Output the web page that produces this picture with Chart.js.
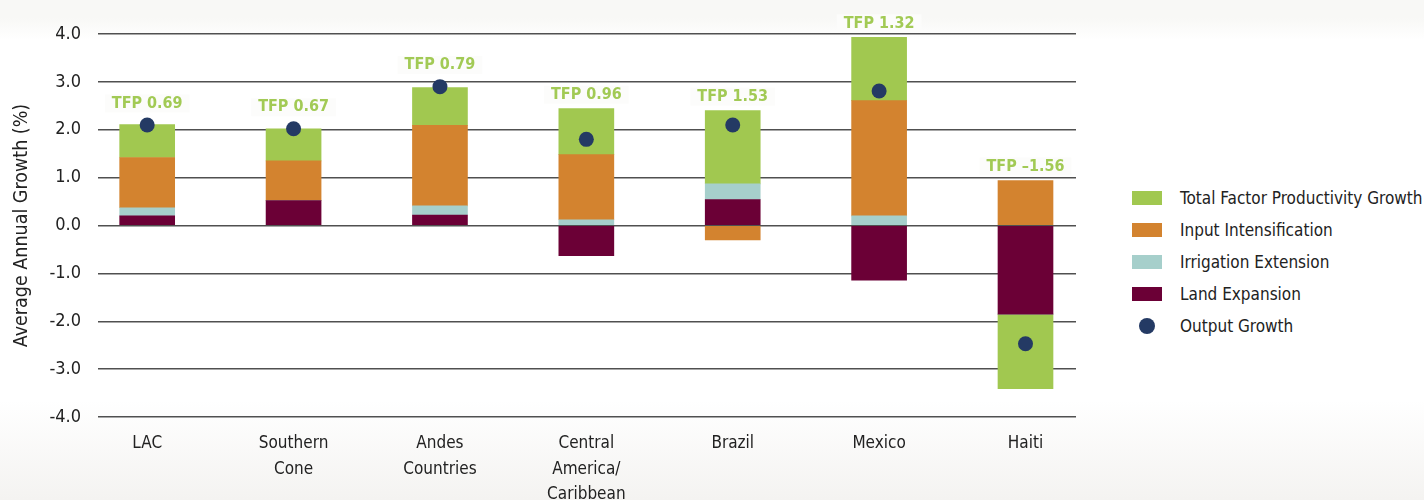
<!DOCTYPE html>
<html lang="en">
<head>
<meta charset="UTF-8">
<title>Sources of Agricultural Output Growth</title>
<script src="https://cdn.jsdelivr.net/npm/chart.js"></script>
<style>
    html, body {
        margin: 0;
        padding: 0;
    }
    body {
        width: 1424px;
        height: 500px;
        overflow: hidden;
        position: relative;
        font-family: 'DejaVu Sans Condensed', 'Liberation Sans Narrow', sans-serif;
        color: #222;
        background: linear-gradient(to bottom, #f8f8f6 0px, #f8f8f6 18px, #ffffff 40px, #ffffff 400px, #f4f3f1 500px);
    }
    .chart-box {
        position: absolute;
        left: 0;
        top: 0;
        width: 1100px;
        height: 500px;
    }
    .legend {
        position: absolute;
        left: 1132px;
        top: 182px;
    }
    .legend-row {
        display: flex;
        align-items: center;
        height: 32px;
        font-size: 17px;
        white-space: nowrap;
    }
    .swatch {
        width: 30px;
        height: 14px;
        margin-right: 18px;
    }
    .dot {
        width: 16px;
        height: 16px;
        border-radius: 50%;
        margin: 0 25px 0 7px;
    }
</style>
</head>
<body>
<div class="chart-box"><canvas id="growthChart" width="1100" height="500"></canvas></div>
<div class="legend" id="legend"></div>

<script>
    // categories and values (average annual growth, %)
    const categories = [['LAC'], ['Southern', 'Cone'], ['Andes', 'Countries'], ['Central', 'America/', 'Caribbean'], ['Brazil'], ['Mexico'], ['Haiti']];
    const landExpansion = [0.20, 0.52, 0.22, -0.63, 0.54, -1.14, -1.85];
    const irrigationExtension = [0.17, 0, 0.19, 0.12, 0.33, 0.20, 0];
    const inputIntensification = [1.05, 0.83, 1.68, 1.36, -0.30, 2.41, 0.94];
    const tfpGrowth = [0.69, 0.67, 0.79, 0.96, 1.53, 1.32, -1.56];
    const outputGrowth = [2.10, 2.02, 2.90, 1.80, 2.10, 2.81, -2.47];
    const tfpLabels = ['TFP 0.69', 'TFP 0.67', 'TFP 0.79', 'TFP 0.96', 'TFP 1.53', 'TFP 1.32', 'TFP \u20131.56'];
    const yMin = -4, yMax = 4, yStep = 1;

    const colors = {
        tfp: '#a1c850',
        input: '#d3832f',
        irrigation: '#a6cfcb',
        land: '#6b0036',
        output: '#243a64',
        label: '#a2ca55',
        grid: '#505050'
    };
    const fontFamily = "'DejaVu Sans Condensed', 'Liberation Sans Narrow', sans-serif";

    // categories sit on a linear axis so the grid can stop short of the outer columns
    const toPoints = arr => arr.map((v, i) => ({ x: i, y: v }));

    // "TFP x.xx" labels above each column, on a small background patch that breaks the grid line
    const tfpLabelPlugin = {
        id: 'tfpLabels',
        afterDatasetsDraw(chart) {
            const { ctx, scales } = chart;
            ctx.save();
            ctx.font = 'bold 16px ' + fontFamily;
            ctx.textAlign = 'center';
            ctx.textBaseline = 'middle';
            tfpLabels.forEach((txt, i) => {
                const posSum = [landExpansion[i], irrigationExtension[i], inputIntensification[i], tfpGrowth[i]]
                    .filter(v => v > 0).reduce((a, b) => a + b, 0);
                const barTop = scales.y.getPixelForValue(posSum);
                const dotTop = scales.y.getPixelForValue(outputGrowth[i]) - 7.5;
                const y = Math.min(barTop, dotTop) - 14;
                const x = scales.x.getPixelForValue(i);
                const w = ctx.measureText(txt).width + 14;
                ctx.fillStyle = '#fcfcfb';
                ctx.fillRect(x - w / 2, y - 9, w, 18);
                ctx.fillStyle = colors.label;
                ctx.fillText(txt, x, y);
            });
            ctx.restore();
        }
    };

    const barOpts = { barThickness: 55, borderWidth: 0 };

    const chart = new Chart(document.getElementById('growthChart').getContext('2d'), {
        type: 'bar',
        data: {
            datasets: [
                { label: 'Land Expansion', data: toPoints(landExpansion), backgroundColor: colors.land, ...barOpts },
                { label: 'Irrigation Extension', data: toPoints(irrigationExtension), backgroundColor: colors.irrigation, ...barOpts },
                { label: 'Input Intensification', data: toPoints(inputIntensification), backgroundColor: colors.input, ...barOpts },
                { label: 'Total Factor Productivity Growth', data: toPoints(tfpGrowth), backgroundColor: colors.tfp, ...barOpts },
                {
                    type: 'line', label: 'Output Growth', data: toPoints(outputGrowth), showLine: false, order: -1,
                    pointRadius: 7.5, pointHoverRadius: 7.5, pointBackgroundColor: colors.output,
                    pointBorderWidth: 0, backgroundColor: colors.output, borderColor: colors.output
                }
            ]
        },
        options: {
            responsive: false,
            animation: false,
            layout: { padding: { top: 34, right: 24, bottom: 0, left: 0 } },
            plugins: {
                legend: { display: false },
                tooltip: { enabled: false }
            },
            scales: {
                x: {
                    type: 'linear',
                    stacked: true,
                    offset: false,
                    min: -0.336,
                    max: 6.345,
                    grid: { display: false, drawTicks: false },
                    border: { display: false },
                    afterBuildTicks(s) { s.ticks = categories.map((c, i) => ({ value: i })); },
                    ticks: {
                        autoSkip: false, maxRotation: 0, padding: 14, color: '#222',
                        font: { family: fontFamily, size: 17, lineHeight: 1.5 },
                        callback: v => categories[v]
                    },
                    afterFit(s) { s.height = 83; }
                },
                y: {
                    stacked: true,
                    min: yMin,
                    max: yMax,
                    grid: { color: colors.grid, lineWidth: 1.5, drawTicks: false },
                    border: { display: false },
                    ticks: {
                        stepSize: yStep, padding: 17, color: '#222',
                        font: { family: fontFamily, size: 18 },
                        callback: v => v.toFixed(1)
                    },
                    title: {
                        display: true,
                        text: 'Average Annual Growth (%)',
                        color: '#222',
                        font: { family: fontFamily, size: 19.5 },
                        padding: { top: 10, bottom: 0 }
                    },
                    afterFit(s) { s.width = 98; }
                }
            }
        },
        plugins: [tfpLabelPlugin]
    });

    // legend, in the order of the reference
    const legendItems = [
        { text: 'Total Factor Productivity Growth', color: colors.tfp, cls: 'swatch' },
        { text: 'Input Intensification', color: colors.input, cls: 'swatch' },
        { text: 'Irrigation Extension', color: colors.irrigation, cls: 'swatch' },
        { text: 'Land Expansion', color: colors.land, cls: 'swatch' },
        { text: 'Output Growth', color: colors.output, cls: 'dot' }
    ];
    const legendEl = document.getElementById('legend');
    legendItems.forEach(item => {
        const row = document.createElement('div');
        row.className = 'legend-row';
        const mark = document.createElement('span');
        mark.className = item.cls;
        mark.style.background = item.color;
        const label = document.createElement('span');
        label.textContent = item.text;
        row.appendChild(mark);
        row.appendChild(label);
        legendEl.appendChild(row);
    });
</script>
</body>
</html>
